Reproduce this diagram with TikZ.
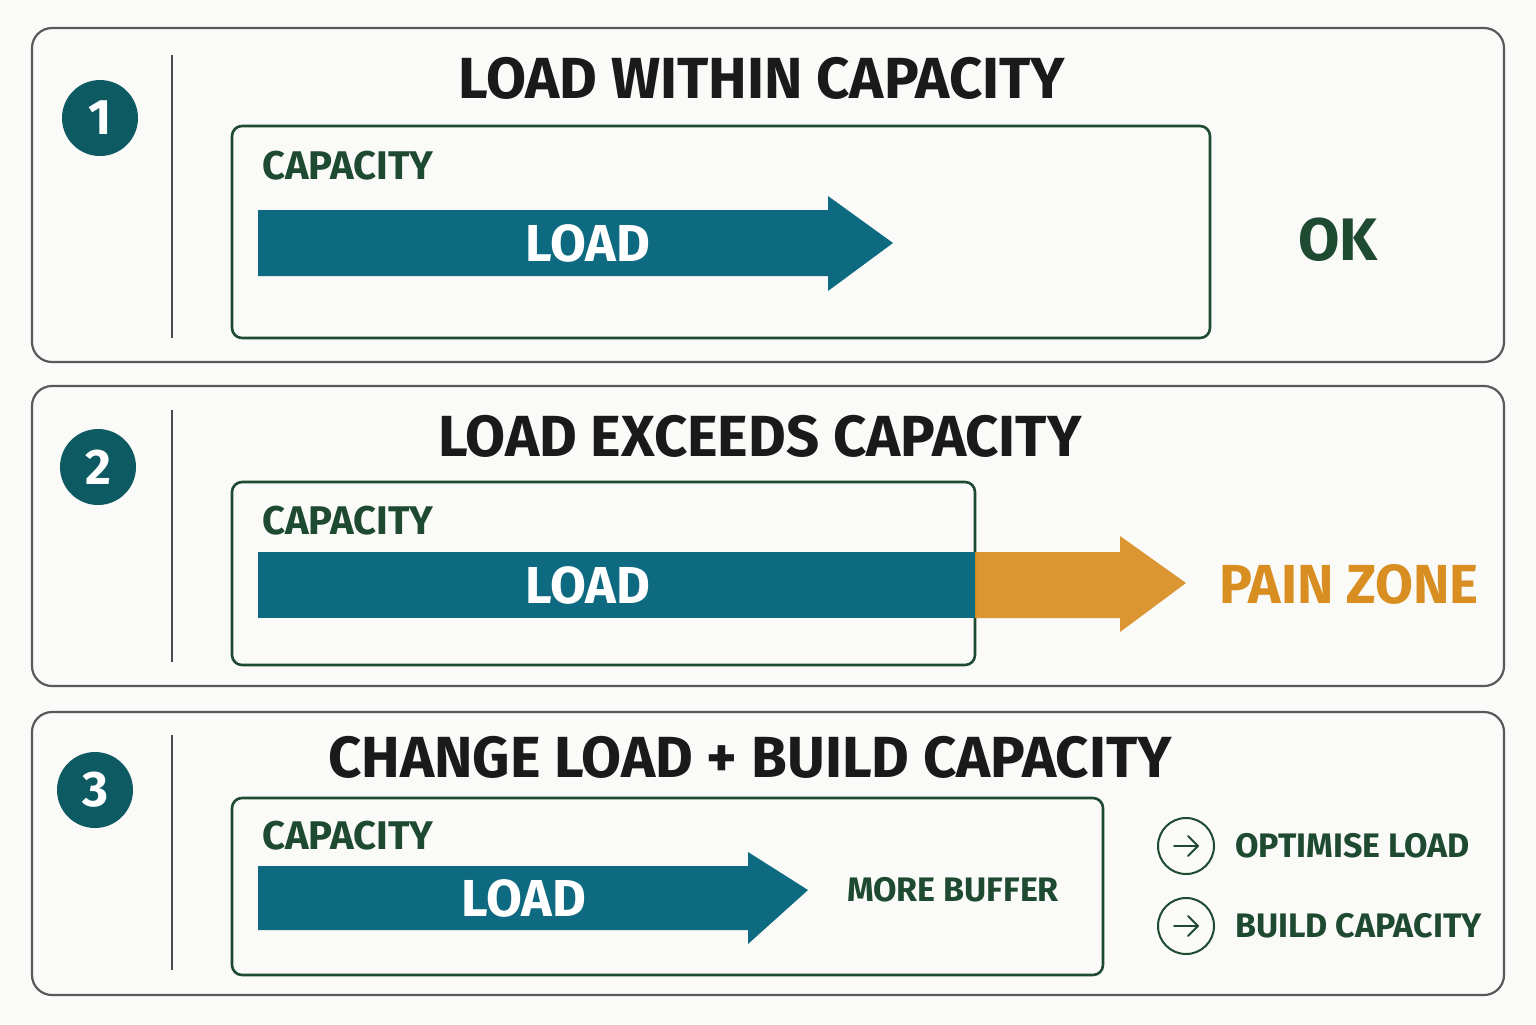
\documentclass[tikz,border=0pt]{standalone}
\usepackage{fontspec}
\setmainfont{Fira Sans}
\definecolor{bg}{HTML}{FAFAF8}
\definecolor{teal}{HTML}{0E6A80}
\definecolor{dteal}{HTML}{0D5A63}
\definecolor{dgreen}{HTML}{1E4A32}
\definecolor{orng}{HTML}{D98E22}
\definecolor{ink}{HTML}{1A1A1A}
\begin{document}
\begin{tikzpicture}[x=0.5pt,y=-0.5pt,
 panel/.style={draw=black!65,line width=1.1pt,rounded corners=10pt},
 capbox/.style={draw=dgreen,line width=1.3pt,rounded corners=5pt},
 sep/.style={draw=black!70,line width=0.8pt},
 num/.style={circle,fill=dteal,minimum size=38pt,inner sep=0,text=white,font=\bfseries\fontsize{25}{25}\selectfont},
 title/.style={text=ink,font=\bfseries\fontsize{29}{29}\selectfont},
 captxt/.style={anchor=west,text=dgreen,font=\bfseries\fontsize{20}{20}\selectfont},
 loadtxt/.style={text=white,font=\bfseries\fontsize{26}{26}\selectfont},
 small/.style={anchor=west,text=dgreen,font=\bfseries\fontsize{17}{17}\selectfont},
 ring/.style={circle,draw=dgreen,line width=1pt,minimum size=28pt,inner sep=0}]
\useasboundingbox (0,0) rectangle (1536,1024);
\fill[bg] (0,0) rectangle (1536,1024);
% panels
\draw[panel] (32,28) rectangle (1504,362);
\draw[panel] (32,386) rectangle (1504,686);
\draw[panel] (32,712) rectangle (1504,995);
\draw[sep] (172,55) -- (172,338);
\draw[sep] (172,410) -- (172,662);
\draw[sep] (172,735) -- (172,970);
\node[num] (n1) at (100,118) {1};
\node[num] (n2) at (98,467) {2};
\node[num] (n3) at (95,790) {3};
% panel 1
\node[title] (t1) at (762,78) {LOAD WITHIN CAPACITY};
\draw[capbox] (232,126) rectangle (1210,338);
\node[captxt] (c1) at (255,166) {CAPACITY};
\fill[teal] (258,210) -- (828,210) -- (828,196) -- (893,243) -- (828,291) -- (828,276) -- (258,276) -- cycle;
\node[loadtxt] (l1) at (588,243) {LOAD};
\node[text=dgreen,font=\bfseries\fontsize{30}{30}\selectfont] (ok) at (1338,240) {OK};
% panel 2
\node[title] (t2) at (760,436) {LOAD EXCEEDS CAPACITY};
\draw[capbox] (232,482) rectangle (975,665);
\node[captxt] (c2) at (255,521) {CAPACITY};
\fill[teal] (258,552) rectangle (975,618);
\fill[orng,opacity=0.92] (975,552) -- (1120,552) -- (1120,536) -- (1186,583) -- (1120,632) -- (1120,618) -- (975,618) -- cycle;
\node[loadtxt] (l2) at (588,585) {LOAD};
\node[text=orng,font=\bfseries\fontsize{27.5}{27.5}\selectfont] (pz) at (1349,584) {PAIN ZONE};
% panel 3
\node[title] (t3) at (750,757) {CHANGE LOAD + BUILD CAPACITY};
\draw[capbox] (232,798) rectangle (1103,975);
\node[captxt] (c3) at (255,836) {CAPACITY};
\fill[teal] (258,866) -- (748,866) -- (748,852) -- (808,890) -- (748,944) -- (748,930) -- (258,930) -- cycle;
\node[loadtxt] (l3) at (524,898) {LOAD};
\node[small,anchor=center] (mb) at (953,890) {MORE BUFFER};
\node[ring] (r1) at (1186,846) {};
\node[ring] (r2) at (1186,926) {};
\foreach \r in {r1,r2}{
 \draw[dgreen,line width=1pt,line cap=round] ([xshift=-6pt]\r.center) -- ([xshift=6pt]\r.center);
 \draw[dgreen,line width=1pt,line cap=round,line join=round] ([xshift=1pt,yshift=5pt]\r.center) -- ([xshift=6pt]\r.center) -- ([xshift=1pt,yshift=-5pt]\r.center);
}
\node[small] (o1) at (1228,846) {OPTIMISE LOAD};
\node[small] (o2) at (1228,926) {BUILD CAPACITY};
\end{tikzpicture}
\end{document}
